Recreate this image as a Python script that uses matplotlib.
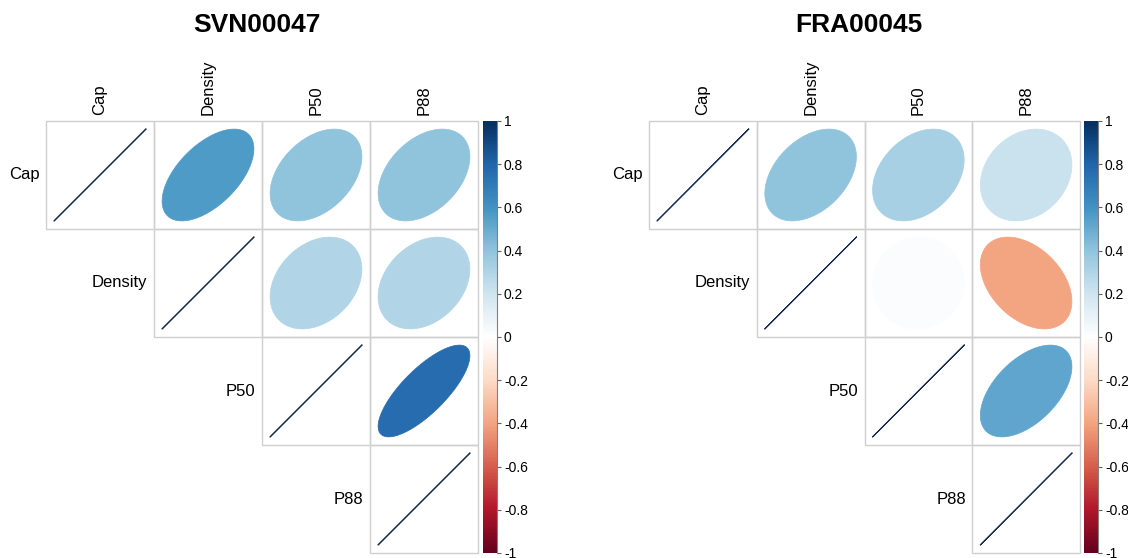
import numpy as np
import matplotlib
matplotlib.use('Agg')
import matplotlib.pyplot as plt
from matplotlib.colors import LinearSegmentedColormap
from matplotlib.patches import Polygon, Rectangle

plt.rcParams['font.family'] = ['Liberation Sans', 'DejaVu Sans']

# variables and correlation matrices (upper triangle used)
variables = ['Cap', 'Density', 'P50', 'P88']
svn_title = 'SVN00047'
svn_corr = np.array([
    [1.00, 0.57, 0.40, 0.40],
    [0.57, 1.00, 0.30, 0.30],
    [0.40, 0.30, 1.00, 0.77],
    [0.40, 0.30, 0.77, 1.00],
])
fra_title = 'FRA00045'
fra_corr = np.array([
    [1.00, 0.40, 0.33, 0.22],
    [0.40, 1.00, 0.02, -0.40],
    [0.33, 0.02, 1.00, 0.53],
    [0.22, -0.40, 0.53, 1.00],
])
cbar_ticks = [-1, -0.8, -0.6, -0.4, -0.2, 0, 0.2, 0.4, 0.6, 0.8, 1]

# RdBu palette as in corrplot
rdbu = LinearSegmentedColormap.from_list('rdbu', [
    '#67001F', '#B2182B', '#D6604D', '#F4A582', '#FDDBC7', '#FFFFFF',
    '#D1E5F0', '#92C5DE', '#4393C3', '#2166AC', '#053061'])

W, H = 1128, 558
fig = plt.figure(figsize=(W / 100, H / 100), dpi=100)


def px_axes(x0, y0, x1, y1):
    return fig.add_axes([x0 / W, 1 - y1 / H, (x1 - x0) / W, (y1 - y0) / H])


def ellipse_pts(r, cx, cy, n=200):
    t = np.linspace(0, 2 * np.pi, n)
    a = np.arccos(np.clip(r, -1, 1)) / 2
    x = 0.85 * np.cos(t + a) / 2
    y = 0.85 * np.cos(t - a) / 2
    return np.column_stack([cx + x, cy - y])


def corr_panel(corr, title, gx0, gx1, gy0, gy1, cbx):
    n = len(variables)
    ax = px_axes(gx0, gy0, gx1, gy1)
    ax.set_xlim(0, n)
    ax.set_ylim(n, 0)
    ax.axis('off')
    for i in range(n):
        for j in range(i, n):
            ax.add_patch(Rectangle((j, i), 1, 1, fill=False, ec='#CFCFCF',
                                   lw=1, clip_on=False))
            r = corr[i, j]
            cx, cy = j + 0.5, i + 0.5
            if i == j:
                pts = ellipse_pts(r, cx, cy)
                ax.plot(pts[:, 0], pts[:, 1], color='#1B2F52', lw=0.8)
            else:
                c = rdbu((r + 1) / 2)
                ax.add_patch(Polygon(ellipse_pts(r, cx, cy), closed=True,
                                     fc=c, ec=c, lw=0.5))
        # row label next to the diagonal cell
        ax.text(i - 0.06, i + 0.5, variables[i], ha='right', va='center',
                fontsize=12)
        # column label above the grid
        ax.text(i + 0.5, -0.055, variables[i], rotation=90, ha='center',
                va='bottom', fontsize=12)
    ax.text(1.95, -0.89, title, ha='center', va='center', fontsize=19,
            fontweight='bold')

    cax = px_axes(cbx, gy0, cbx + 14, gy1)
    grad = np.linspace(1, -1, 400).reshape(-1, 1)
    cax.imshow(grad, cmap=rdbu, vmin=-1, vmax=1, aspect='auto',
               extent=[0, 1, -1, 1])
    cax.set_xlim(0, 1)
    cax.set_ylim(-1, 1)
    for s in ['top', 'bottom', 'left']:
        cax.spines[s].set_visible(False)
    cax.spines['right'].set_color('#808080')
    cax.set_xticks([])
    cax.yaxis.tick_right()
    cax.set_yticks(cbar_ticks)
    cax.set_yticklabels([f'{t:g}' for t in cbar_ticks])
    cax.tick_params(axis='y', labelsize=10, length=3, color='#606060', pad=2)


corr_panel(svn_corr, svn_title, 46, 478, 121, 553, 483)
corr_panel(fra_corr, fra_title, 649, 1080, 121, 553, 1084)

fig.savefig('out.png', dpi=100, facecolor='white')
